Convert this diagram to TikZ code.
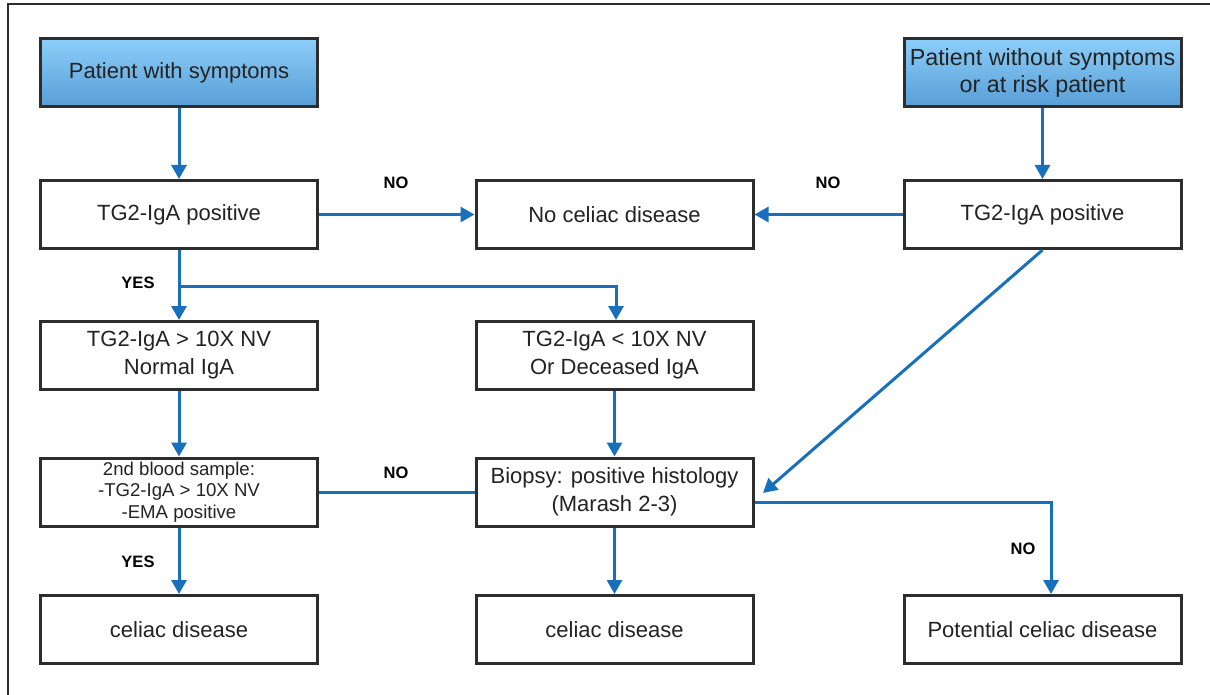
\documentclass[tikz,border=0pt]{standalone}
\usepackage{fontspec}
\setmainfont{Liberation Sans}
\usetikzlibrary{arrows.meta}
\definecolor{arrowblue}{RGB}{24,112,188}
\definecolor{boxline}{RGB}{45,45,45}
\definecolor{txt}{RGB}{35,35,35}
\definecolor{bluetop}{RGB}{140,206,250}
\definecolor{bluebot}{RGB}{88,158,214}
\tikzset{
  box/.style={draw=boxline, line width=3pt, fill=white, minimum width=277pt, minimum height=68pt,
    align=center, text=txt, font=\fontsize{22}{28}\selectfont, inner sep=2pt},
  smallbox/.style={box, font=\fontsize{18.6}{21.5}\selectfont},
  startbox/.style={box, top color=bluetop, bottom color=bluebot},
  flow/.style={draw=arrowblue, line width=3pt, -{Triangle[width=15pt,length=14pt]}},
  plain/.style={draw=arrowblue, line width=3pt},
  lbl/.style={font=\bfseries\fontsize{16.5}{18}\selectfont, text=black, inner sep=0pt}
}
\begin{document}
\begin{tikzpicture}[x=1pt,y=-1pt]
\useasboundingbox (0,0) rectangle (1210,695);
\draw[line width=1.5pt, color=boxline] (8,695) -- (8,4) -- (1210,4);

\node[startbox] (s1) at (179,72.5) {Patient with symptoms};
\node[startbox, font=\fontsize{23.3}{27}\selectfont] (s2) at (1042.5,72.5) {Patient without symptoms\\or at risk patient};
\node[box] (t1) at (179,214.5) {TG2-IgA positive};
\node[box] (nc) at (614.5,214.5) {No celiac disease};
\node[box] (t2) at (1042.5,214.5) {TG2-IgA positive};
\node[box] (hi) at (179,355.5) {TG2-IgA > 10X NV\\Normal IgA};
\node[box] (lo) at (614.5,355.5) {TG2-IgA < 10X NV\\Or Deceased IgA};
\node[smallbox] (bs) at (179,492) {2nd blood sample:\\-TG2-IgA > 10X NV\\-EMA positive};
\node[box] (bx) at (614.5,492) {Biopsy: positive histology\\(Marash 2-3)};
\node[box] (c1) at (179,629.5) {celiac disease};
\node[box] (c2) at (614.5,629.5) {celiac disease};
\node[box] (pc) at (1042.5,629.5) {Potential celiac disease};

\coordinate (ysplit) at (179,286);
\coordinate (yturn) at (616,286);
\coordinate (diagend) at (763,493);
\coordinate (nturn) at (1051,502);

\draw[flow] (s1) -- (t1);
\draw[flow] (s2) -- (t2);
\draw[flow] (t1) -- (nc);
\draw[flow] (t2) -- (nc);
\draw[flow] (t1) -- (hi);
\draw[flow] (ysplit) -- (yturn) -- (yturn |- lo.north);
\draw[flow] (t2.south) -- (diagend);
\draw[flow] (hi) -- (bs);
\draw[flow] (lo) -- (bx);
\draw[plain] (bx.west) -- (bs.east);
\draw[flow] (bx.east |- nturn) -- (nturn) -- (nturn |- pc.north);
\draw[flow] (bx) -- (c2);
\draw[flow] (bs) -- (c1);

\node[lbl] (l1) at (396,183) {NO};
\node[lbl] (l2) at (828,183) {NO};
\node[lbl] (l3) at (138,283) {YES};
\node[lbl] (l4) at (396,473) {NO};
\node[lbl] (l5) at (1023,549) {NO};
\node[lbl] (l6) at (138,562) {YES};
\end{tikzpicture}
\end{document}
